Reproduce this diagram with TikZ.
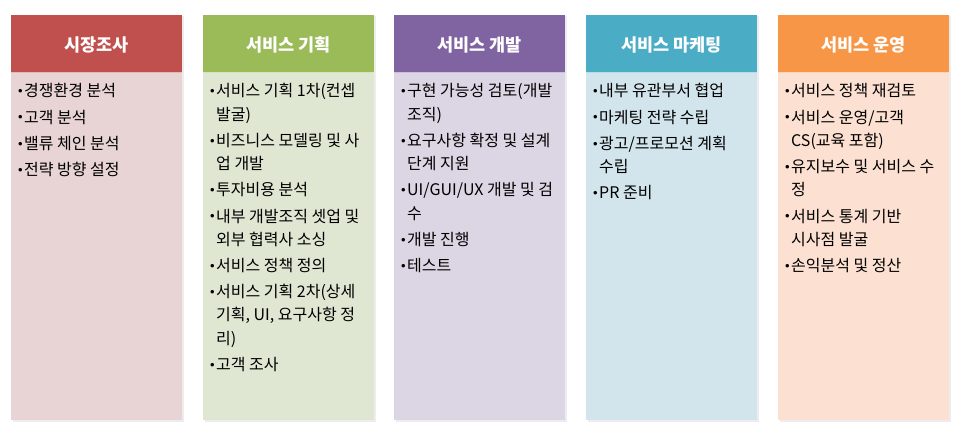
\documentclass[tikz,border=0pt]{standalone}
\usepackage{fontspec}
\setmainfont{Noto Sans CJK KR}
\newfontfamily\bulfont{Liberation Sans}
\definecolor{h1c}{HTML}{C0504D}\definecolor{b1c}{HTML}{E8D4D4}
\definecolor{h2c}{HTML}{9BBB59}\definecolor{b2c}{HTML}{DFE7D3}
\definecolor{h3c}{HTML}{8064A2}\definecolor{b3c}{HTML}{DCD6E4}
\definecolor{h4c}{HTML}{4BACC6}\definecolor{b4c}{HTML}{D3E5EC}
\definecolor{h5c}{HTML}{F79646}\definecolor{b5c}{HTML}{FCE0D1}
\tikzset{
  hdr/.style={fill=#1, minimum width=171pt, minimum height=58pt, anchor=north west, inner sep=0pt, outer sep=0pt},
  bdy/.style={fill=#1, minimum width=171pt, minimum height=347pt, anchor=north west, inner sep=0pt, outer sep=0pt},
  shd/.style={fill=black!7, minimum width=171pt, minimum height=405pt, anchor=north west, inner sep=0pt, outer sep=0pt},
  htxt/.style={text=white, font=\fontsize{17.5}{17.5}\selectfont\bfseries, anchor=base, inner sep=0pt},
  itm/.style={font=\fontsize{16}{16}\selectfont, anchor=base west, inner sep=0pt, text=black},
  sep/.style={draw=white, opacity=0.6, line width=1pt},
}
\newcommand\bul{\makebox[6pt][l]{\raisebox{1.2pt}{\bulfont\fontsize{13}{13}\selectfont •}}}
\begin{document}
\begin{tikzpicture}[x=1pt,y=-1pt]
\useasboundingbox (0,0) rectangle (962,436);
% shadows
\foreach \lx [count=\i] in {11,203,394,586,778}{
  \node[shd] (s\i) at (\lx+1.5,16.5) {};
}
% column 1
\node[hdr=h1c] (h1) at (11,15) {};
\node[bdy=b1c] (b1) at (11,73) {};
\draw[sep] (h1.south west) -- (h1.south east);
\node[htxt] (t1) at (96.5,52) {시장조사};
\node[itm] (c1a) at (18,97) {\bul 경쟁환경 분석};
\node[itm] (c1b) at (18,123.2) {\bul 고객 분석};
\node[itm] (c1c) at (18,149.4) {\bul 밸류 체인 분석};
\node[itm] (c1d) at (18,175.6) {\bul 전략 방향 설정};
% column 2
\node[hdr=h2c] (h2) at (203,15) {};
\node[bdy=b2c] (b2) at (203,73) {};
\draw[sep] (h2.south west) -- (h2.south east);
\node[htxt] (t2) at (288.5,52) {서비스 기획};
\node[itm] (c2a) at (210,97) {\bul 서비스 기획 1차(컨셉};
\node[itm] (c2b) at (216,120.2) {발굴)};
\node[itm] (c2c) at (210,146.4) {\bul 비즈니스 모델링 및 사};
\node[itm] (c2d) at (216,169.6) {업 개발};
\node[itm] (c2e) at (210,195.8) {\bul 투자비용 분석};
\node[itm] (c2f) at (210,222) {\bul 내부 개발조직 셋업 및};
\node[itm] (c2g) at (216,245.2) {외부 협력사 소싱};
\node[itm] (c2h) at (210,271.4) {\bul 서비스 정책 정의};
\node[itm] (c2i) at (210,297.6) {\bul 서비스 기획 2차(상세};
\node[itm] (c2j) at (216,320.8) {기획, UI, 요구사항 정};
\node[itm] (c2k) at (216,344) {리)};
\node[itm] (c2l) at (210,370.2) {\bul 고객 조사};
% column 3
\node[hdr=h3c] (h3) at (394,15) {};
\node[bdy=b3c] (b3) at (394,73) {};
\draw[sep] (h3.south west) -- (h3.south east);
\node[htxt] (t3) at (479.5,52) {서비스 개발};
\node[itm] (c3a) at (401,97) {\bul 구현 가능성 검토(개발};
\node[itm] (c3b) at (407,120.2) {조직)};
\node[itm] (c3c) at (401,146.4) {\bul 요구사항 확정 및 설계};
\node[itm] (c3d) at (407,169.6) {단계 지원};
\node[itm] (c3e) at (401,195.8) {\bul UI/GUI/UX 개발 및 검};
\node[itm] (c3f) at (407,219) {수};
\node[itm] (c3g) at (401,245.2) {\bul 개발 진행};
\node[itm] (c3h) at (401,271.4) {\bul 테스트};
% column 4
\node[hdr=h4c] (h4) at (586,15) {};
\node[bdy=b4c] (b4) at (586,73) {};
\draw[sep] (h4.south west) -- (h4.south east);
\node[htxt] (t4) at (671.5,52) {서비스 마케팅};
\node[itm] (c4a) at (593,97) {\bul 내부 유관부서 협업};
\node[itm] (c4b) at (593,123.2) {\bul 마케팅 전략 수립};
\node[itm] (c4c) at (593,149.4) {\bul 광고/프로모션 계획};
\node[itm] (c4d) at (599,172.6) {수립};
\node[itm] (c4e) at (593,198.8) {\bul PR 준비};
% column 5
\node[hdr=h5c] (h5) at (778,15) {};
\node[bdy=b5c] (b5) at (778,73) {};
\draw[sep] (h5.south west) -- (h5.south east);
\node[htxt] (t5) at (863.5,52) {서비스 운영};
\node[itm] (c5a) at (785,97) {\bul 서비스 정책 재검토};
\node[itm] (c5b) at (785,123.2) {\bul 서비스 운영/고객};
\node[itm] (c5c) at (791,146.4) {CS(교육 포함)};
\node[itm] (c5d) at (785,172.6) {\bul 유지보수 및 서비스 수};
\node[itm] (c5e) at (791,195.8) {정};
\node[itm] (c5f) at (785,222) {\bul 서비스 통계 기반};
\node[itm] (c5g) at (791,245.2) {시사점 발굴};
\node[itm] (c5h) at (785,271.4) {\bul 손익분석 및 정산};
\end{tikzpicture}
\end{document}
